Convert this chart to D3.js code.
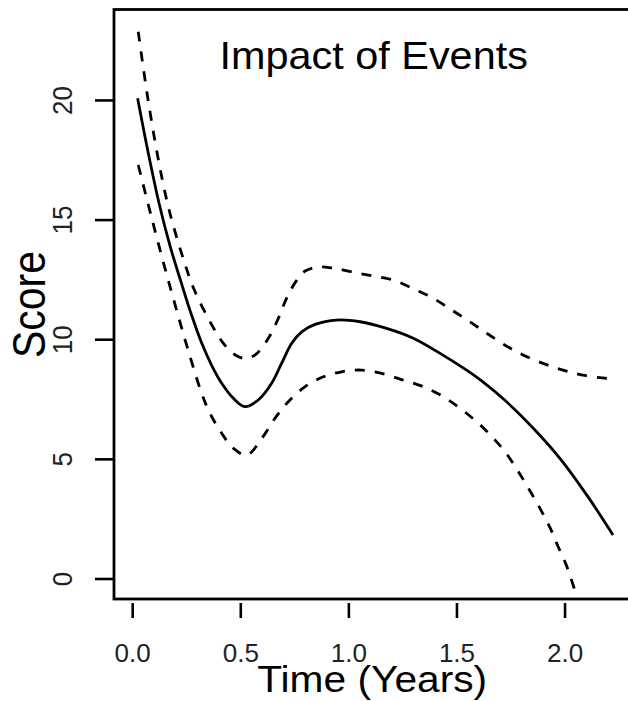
<!DOCTYPE html>
<html>
<head>
<meta charset="utf-8">
<script src="https://cdn.jsdelivr.net/npm/d3@7"></script>
<style>
  html, body { margin: 0; padding: 0; background: #fff; }
  svg { display: block; }
  text { font-family: "Liberation Sans", Arial, Helvetica, sans-serif; }
</style>
</head>
<body>
<div id="canvas"></div>
<script>
// fitted curve
var fitTime  = [0.025, 0.075, 0.125, 0.175, 0.229, 0.275, 0.321, 0.368, 0.414, 0.468, 0.522, 0.583, 0.645, 0.691, 0.738, 0.784, 0.846, 0.946, 1.054, 1.177, 1.300, 1.424, 1.547, 1.615, 1.723, 1.862, 1.985, 2.108, 2.224];
var fitScore = [20.07, 17.75, 15.65, 13.90, 12.30, 11.00, 9.85, 8.90, 8.16, 7.53, 7.18, 7.46, 8.16, 8.99, 9.83, 10.31, 10.62, 10.80, 10.73, 10.45, 10.04, 9.41, 8.71, 8.27, 7.46, 6.22, 4.95, 3.42, 1.82];

// upper band (dashed)
var upperTime  = [0.028, 0.070, 0.120, 0.160, 0.190, 0.235, 0.283, 0.368, 0.420, 0.475, 0.522, 0.568, 0.630, 0.676, 0.714, 0.760, 0.800, 0.860, 0.930, 1.023, 1.115, 1.215, 1.308, 1.393, 1.478, 1.562, 1.640, 1.723, 1.808, 1.900, 1.993, 2.085, 2.185, 2.224];
var upperScore = [22.85, 20.20, 17.55, 15.80, 14.75, 13.40, 12.15, 10.60, 9.85, 9.35, 9.20, 9.34, 10.04, 10.87, 11.71, 12.45, 12.85, 13.02, 12.97, 12.80, 12.64, 12.45, 12.08, 11.71, 11.22, 10.73, 10.25, 9.76, 9.34, 8.99, 8.71, 8.50, 8.37, 8.33];

// lower band (dashed)
var lowerTime  = [0.028, 0.075, 0.105, 0.152, 0.206, 0.260, 0.321, 0.360, 0.414, 0.468, 0.530, 0.600, 0.660, 0.722, 0.800, 0.884, 0.969, 1.061, 1.162, 1.254, 1.346, 1.439, 1.524, 1.600, 1.669, 1.730, 1.784, 1.831, 1.885, 1.931, 1.969, 2.008, 2.047];
var lowerScore = [17.28, 15.60, 14.55, 12.95, 11.20, 9.50, 7.75, 6.90, 6.07, 5.44, 5.16, 5.86, 6.69, 7.39, 8.02, 8.43, 8.64, 8.71, 8.55, 8.29, 8.02, 7.60, 7.06, 6.50, 5.88, 5.23, 4.50, 3.80, 2.95, 2.16, 1.36, 0.56, -0.48];

var xTicks = [0, 0.5, 1, 1.5, 2];
var yTicks = [0, 5, 10, 15, 20];
var xTickLabels = ["0.0", "0.5", "1.0", "1.5", "2.0"];
var yTickLabels = ["0", "5", "10", "15", "20"];

var width = 628, height = 701;
var box = {left: 114, top: 9.5, right: 640, bottom: 599};
var xLim = [-0.0842, 2.349], yLim = [-0.857, 23.78];

var svg = d3.select("#canvas")
  .append("svg")
  .attr("width", width)
  .attr("height", height);

var x = d3.scaleLinear().domain(xLim).range([box.left, box.right]);
var y = d3.scaleLinear().domain(yLim).range([box.bottom, box.top]);

svg.append("clipPath")
  .attr("id", "plot-clip")
  .append("rect")
  .attr("x", box.left).attr("y", box.top)
  .attr("width", box.right - box.left).attr("height", box.bottom - box.top);

var line = d3.line()
  .x(d => x(d[0]))
  .y(d => y(d[1]))
  .curve(d3.curveCatmullRom.alpha(0.5));

var series = [
  {t: fitTime, v: fitScore, dash: null},
  {t: upperTime, v: upperScore, dash: "10,10"},
  {t: lowerTime, v: lowerScore, dash: "10,10"}
];

svg.append("g")
  .attr("clip-path", "url(#plot-clip)")
  .selectAll("path")
  .data(series)
  .enter()
  .append("path")
  .attr("d", s => line(s.t.map((t, i) => [t, s.v[i]])))
  .attr("fill", "none")
  .attr("stroke", "#000")
  .attr("stroke-width", 2.8)
  .attr("stroke-dasharray", s => s.dash);

// frame
svg.append("rect")
  .attr("x", box.left).attr("y", box.top)
  .attr("width", box.right - box.left).attr("height", box.bottom - box.top)
  .attr("fill", "none")
  .attr("stroke", "#000")
  .attr("stroke-width", 2.8);

// x axis (ticks sit below the frame, no axis line)
var xAxis = svg.append("g")
  .attr("class", "x-axis")
  .attr("transform", `translate(0,${box.bottom + 4})`)
  .call(d3.axisBottom(x).tickValues(xTicks).tickFormat((d, i) => xTickLabels[i]).tickSize(15));
xAxis.select(".domain").remove();
xAxis.selectAll("line").attr("stroke", "#000").attr("stroke-width", 2.6);
xAxis.selectAll(".tick text")
  .attr("y", 59)
  .attr("dy", 0)
  .style("font-size", "26px")
  .attr("fill", "#222");

// y axis
var yAxis = svg.append("g")
  .attr("class", "y-axis")
  .attr("transform", `translate(${box.left},0)`)
  .call(d3.axisLeft(y).tickValues(yTicks).tickFormat((d, i) => yTickLabels[i]).tickSize(19));
yAxis.select(".domain").remove();
yAxis.selectAll("line").attr("stroke", "#000").attr("stroke-width", 2.6);
yAxis.selectAll("text")
  .attr("x", 0).attr("dy", 0)
  .attr("y", -42 / 1.07)
  .attr("text-anchor", "middle")
  .attr("transform", "rotate(-90) scale(1,1.07)")
  .style("font-size", "26px")
  .attr("fill", "#222");

// title and axis titles
svg.append("text")
  .attr("transform", `translate(${x(1.117)},69) scale(1.09,1)`)
  .attr("text-anchor", "middle")
  .style("font-size", "38px")
  .text("Impact of Events");

svg.append("text")
  .attr("transform", `translate(${x(1.11)},692) scale(1.1,1)`)
  .attr("text-anchor", "middle")
  .style("font-size", "37px")
  .text("Time (Years)");

svg.append("text")
  .attr("transform", `translate(45,${y(11.45)}) rotate(-90) scale(1,1.12)`)
  .attr("text-anchor", "middle")
  .style("font-size", "41px")
  .text("Score");
</script>
</body>
</html>
